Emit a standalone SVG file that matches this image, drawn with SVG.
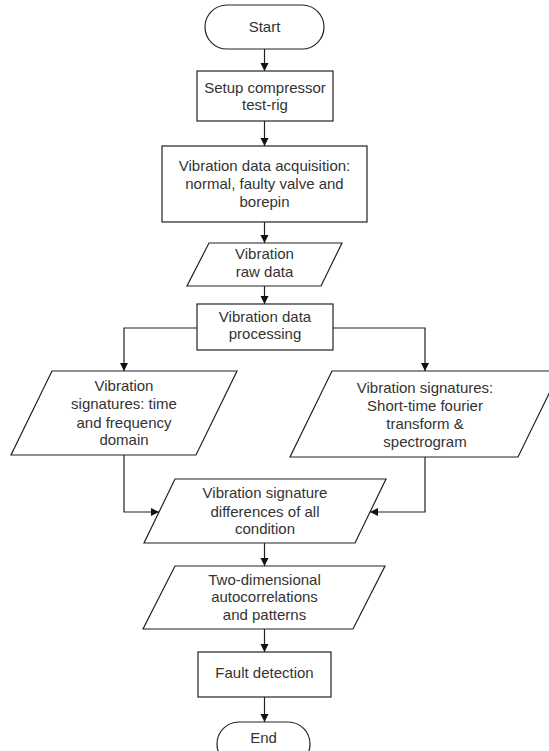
<svg xmlns="http://www.w3.org/2000/svg" width="549" height="751" viewBox="0 0 549 751">
<defs>
<style>
.s{fill:#fff;stroke:#222;stroke-width:1.2}
.c{fill:none;stroke:#222;stroke-width:1.2}
text{font-family:"Liberation Sans",Arial,Helvetica,sans-serif;font-size:15px;fill:#333;text-anchor:middle}
</style>
<marker id="a" markerUnits="userSpaceOnUse" markerWidth="10" markerHeight="10" viewBox="0 0 10 10" refX="9" refY="5" orient="auto">
<path d="M1,1 L9,5 L1,9 Z" fill="#111"/>
</marker>
</defs>
<rect width="549" height="751" fill="#fff"/>
<g id="connectors">
<path class="c" marker-end="url(#a)" d="M264.5,49 V71"/>
<path class="c" marker-end="url(#a)" d="M264.5,121 V146"/>
<path class="c" marker-end="url(#a)" d="M264.5,222 V243"/>
<path class="c" marker-end="url(#a)" d="M264.5,286 V304"/>
<path class="c" marker-end="url(#a)" d="M197,328 H124 V371"/>
<path class="c" marker-end="url(#a)" d="M333,328 H425 V371"/>
<path class="c" marker-end="url(#a)" d="M124,455 V512 H159"/>
<path class="c" marker-end="url(#a)" d="M425,457 V512 H370"/>
<path class="c" marker-end="url(#a)" d="M264.5,543 V566"/>
<path class="c" marker-end="url(#a)" d="M264.5,629 V652"/>
<path class="c" marker-end="url(#a)" d="M264.5,697 V722"/>
</g>
<g id="start">
<rect class="s" x="205" y="5" width="119" height="44" rx="22"/>
<text x="264.5" y="32">Start</text>
</g>
<g id="setup">
<rect class="s" x="197" y="71" width="136" height="50"/>
<text x="265" y="93">Setup compressor</text>
<text x="265" y="110">test-rig</text>
</g>
<g id="acquisition">
<rect class="s" x="162" y="146" width="205" height="76"/>
<text x="264.5" y="171">Vibration data acquisition:</text>
<text x="264.5" y="189">normal, faulty valve and</text>
<text x="264.5" y="207">borepin</text>
</g>
<g id="rawdata">
<polygon class="s" points="209,243 342,243 321,286 187,286"/>
<text x="264.5" y="259">Vibration</text>
<text x="264.5" y="277">raw data</text>
</g>
<g id="processing">
<rect class="s" x="197" y="304" width="136" height="46"/>
<text x="265" y="322">Vibration data</text>
<text x="265" y="339">processing</text>
</g>
<g id="timefreq">
<polygon class="s" points="52,371 237,371 196,455 11,455"/>
<text x="124" y="391">Vibration</text>
<text x="124" y="409">signatures: time</text>
<text x="124" y="428">and frequency</text>
<text x="124" y="445">domain</text>
</g>
<g id="stft">
<polygon class="s" points="332,371 560,371 518,457 290,457"/>
<text x="425" y="393">Vibration signatures:</text>
<text x="425" y="411">Short-time fourier</text>
<text x="425" y="429">transform &amp;</text>
<text x="425" y="447">spectrogram</text>
</g>
<g id="differences">
<polygon class="s" points="175,479 386,479 355,543 144,543"/>
<text x="265" y="498">Vibration signature</text>
<text x="265" y="517">differences of all</text>
<text x="265" y="534">condition</text>
</g>
<g id="autocorr">
<polygon class="s" points="175,566 385,566 353,629 143,629"/>
<text x="264.5" y="585">Two-dimensional</text>
<text x="264.5" y="602">autocorrelations</text>
<text x="264.5" y="620">and patterns</text>
</g>
<g id="fault">
<rect class="s" x="198" y="652" width="133" height="45"/>
<text x="264.5" y="678">Fault detection</text>
</g>
<g id="end">
<rect class="s" x="217" y="722" width="93" height="44" rx="22"/>
<text x="263.5" y="743">End</text>
</g>
</svg>
